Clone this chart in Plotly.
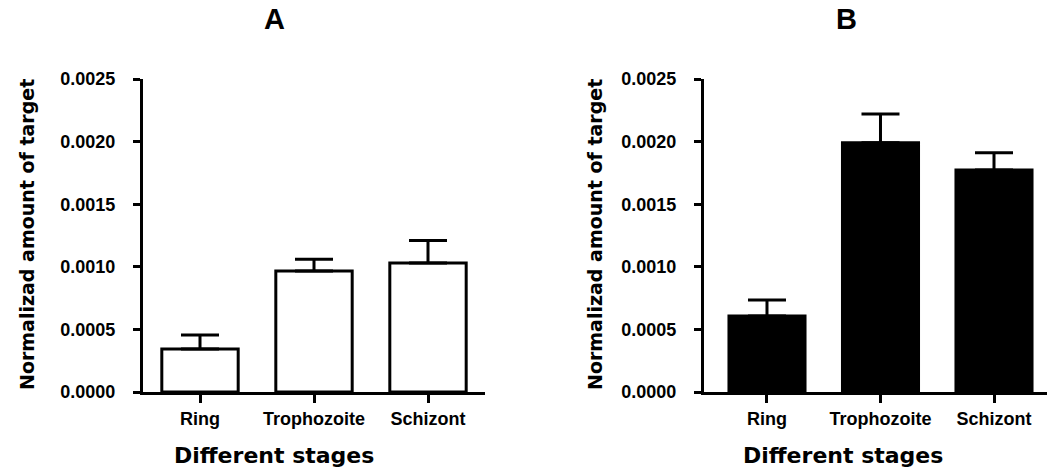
import plotly.graph_objects as go

stages = ["Ring", "Trophozoite", "Schizont"]
a_values = [0.000343, 0.000966, 0.00103]
a_errors = [0.000112, 0.000095, 0.00018]
b_values = [0.000607, 0.00199, 0.001773]
b_errors = [0.000128, 0.00023, 0.000137]
y_ticks = [0.0, 0.0005, 0.0010, 0.0015, 0.0020, 0.0025]
y_ticktext = ["0.0000", "0.0005", "0.0010", "0.0015", "0.0020", "0.0025"]

W, H = 1053, 472


def px(x):
    return x / W


def py(y):
    return 1 - y / H


TICKFONT = dict(family="Liberation Sans, Arial, sans-serif", size=18, color="black", weight="bold")
TITLEFONT = dict(family="DejaVu Sans, sans-serif", size=19, color="black", weight="bold")
XTITLEFONT = dict(family="DejaVu Sans, sans-serif", size=22, color="black", weight="bold")
PANELFONT = dict(family="Liberation Sans, Arial, sans-serif", size=29, color="black", weight="bold")

fig = go.Figure()
fig.add_trace(go.Bar(
    x=stages, y=a_values, xaxis="x", yaxis="y", width=0.67,
    marker=dict(color="white", line=dict(color="black", width=3)),
    error_y=dict(type="data", array=a_errors, arrayminus=[0, 0, 0], symmetric=False,
                 color="black", thickness=3, width=19),
    showlegend=False))
fig.add_trace(go.Bar(
    x=stages, y=b_values, xaxis="x2", yaxis="y2", width=0.67,
    marker=dict(color="black", line=dict(color="black", width=3)),
    error_y=dict(type="data", array=b_errors, arrayminus=[0, 0, 0], symmetric=False,
                 color="black", thickness=3, width=19),
    showlegend=False))

ydom = [py(392), py(79)]
common_x = dict(showline=True, linecolor="black", linewidth=3, ticks="outside", ticklen=8,
                tickwidth=3, tickcolor="black", tickfont=TICKFONT, showgrid=False,
                zeroline=False, fixedrange=True, automargin=False)
common_y = dict(showline=True, linecolor="black", linewidth=3, ticks="outside", ticklen=7,
                tickwidth=3, tickcolor="black", tickfont=TICKFONT, showgrid=False,
                zeroline=False, range=[0, 0.0025], tickvals=y_ticks, ticktext=y_ticktext,
                ticklabelstandoff=14, automargin=False, fixedrange=True)

fig.update_layout(
    width=W, height=H, autosize=False,
    margin=dict(l=0, r=0, t=0, b=0, pad=0, autoexpand=False),
    paper_bgcolor="white", plot_bgcolor="white",
    hovermode=False,
    xaxis=dict(domain=[px(143), px(485)], range=[-0.5, 2.5], anchor="y", **common_x),
    yaxis=dict(domain=ydom, anchor="x", **common_y),
    xaxis2=dict(domain=[px(704), px(1047)], range=[-0.555, 2.467], anchor="y2", **common_x),
    yaxis2=dict(domain=ydom, anchor="x2", **common_y),
    annotations=[
        dict(text="A", x=px(274), y=py(19), xref="paper", yref="paper", showarrow=False,
             font=PANELFONT, xanchor="center", yanchor="middle"),
        dict(text="B", x=px(846), y=py(19), xref="paper", yref="paper", showarrow=False,
             font=PANELFONT, xanchor="center", yanchor="middle"),
        dict(text="Normalizad amount of target", x=px(27), y=py(235), xref="paper", yref="paper",
             showarrow=False, textangle=-90, font=TITLEFONT, xanchor="center", yanchor="middle"),
        dict(text="Normalizad amount of target", x=px(595), y=py(235), xref="paper", yref="paper",
             showarrow=False, textangle=-90, font=TITLEFONT, xanchor="center", yanchor="middle"),
        dict(text="Different stages", x=px(274), y=py(455), xref="paper", yref="paper",
             showarrow=False, font=XTITLEFONT, xanchor="center", yanchor="middle"),
        dict(text="Different stages", x=px(843), y=py(455), xref="paper", yref="paper",
             showarrow=False, font=XTITLEFONT, xanchor="center", yanchor="middle"),
    ],
)

fig.write_html(
    "out.html",
    config={"displayModeBar": False, "staticPlot": True},
    post_script="document.body.style.margin='0px';document.body.style.overflow='hidden';",
)
